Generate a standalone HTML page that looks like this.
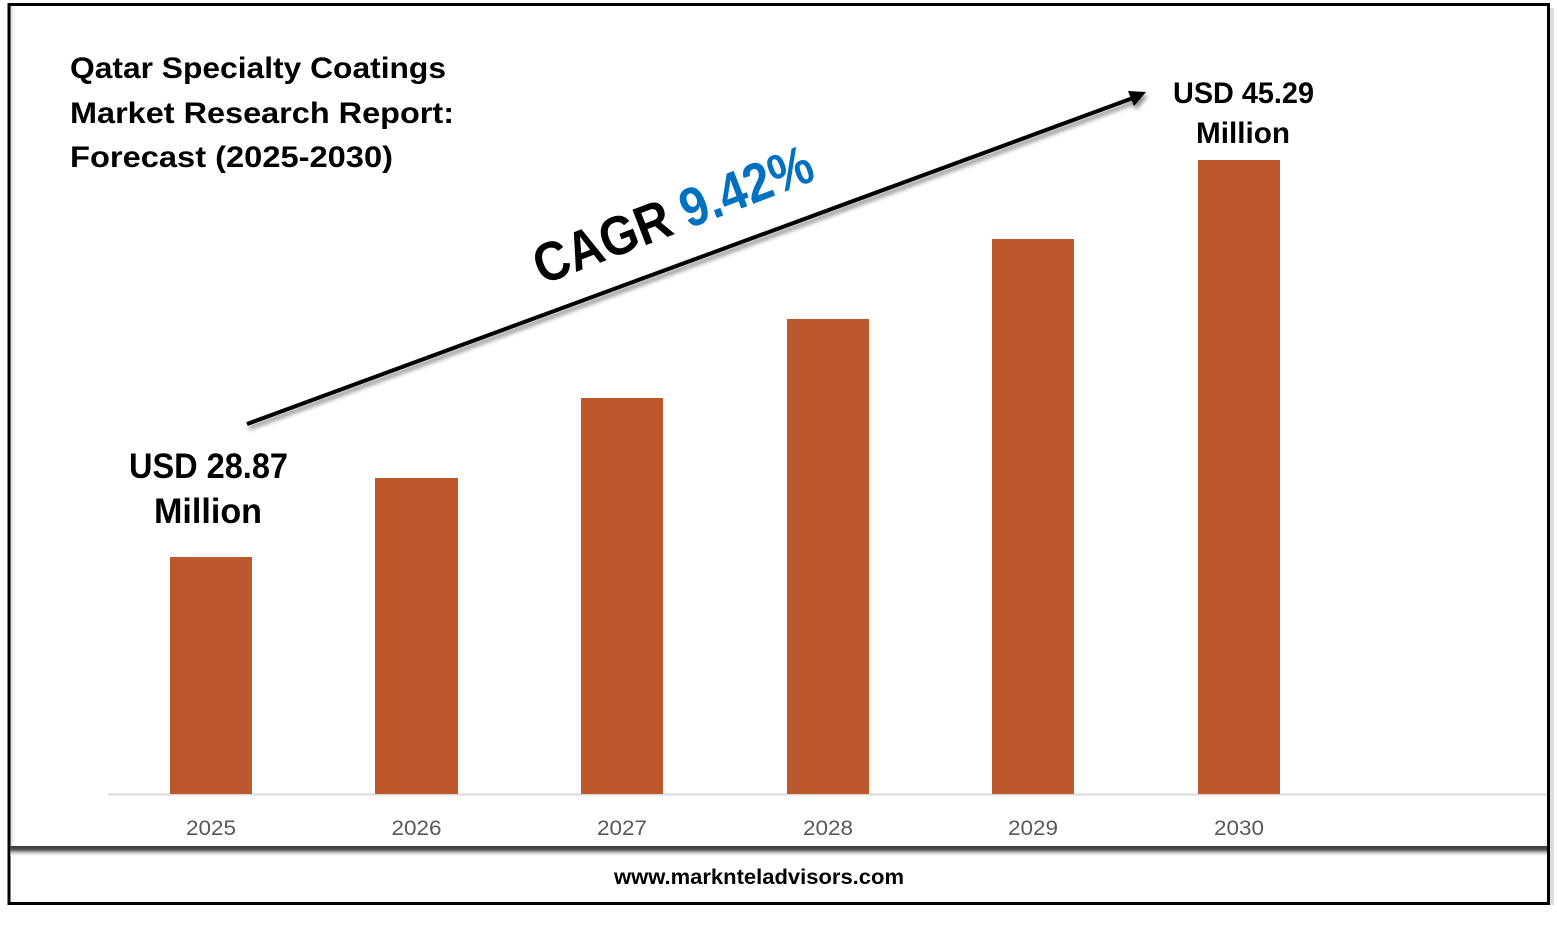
<!DOCTYPE html>
<html>
<head>
<meta charset="utf-8">
<style>
  html,body{margin:0;padding:0;background:#fff;}
  svg{display:block;}
  text{font-family:"Liberation Sans", sans-serif;}
</style>
</head>
<body>
<svg width="1557" height="927" viewBox="0 0 1557 927" xmlns="http://www.w3.org/2000/svg">
  <defs>
    <filter id="sh" x="-10%" y="-50%" width="120%" height="200%">
      <feGaussianBlur in="SourceAlpha" stdDeviation="2"/>
      <feOffset dx="2" dy="4" result="b"/>
      <feComponentTransfer><feFuncA type="linear" slope="0.45"/></feComponentTransfer>
      <feMerge><feMergeNode/><feMergeNode in="SourceGraphic"/></feMerge>
    </filter>
    <linearGradient id="div" x1="0" y1="0" x2="0" y2="1">
      <stop offset="0" stop-color="#3a3a3a"/>
      <stop offset="0.35" stop-color="#555"/>
      <stop offset="1" stop-color="#fff" stop-opacity="0"/>
    </linearGradient>
    <linearGradient id="lsh" x1="0" y1="0" x2="1" y2="0">
      <stop offset="0" stop-color="#999"/>
      <stop offset="1" stop-color="#fff" stop-opacity="0"/>
    </linearGradient>
  </defs>
  <rect width="1557" height="927" fill="#fff"/>

  <!-- outer shadow right -->
  <rect x="1550" y="8" width="4" height="897" fill="#ddd"/>
  <!-- left inner shadow -->
  <rect x="10" y="6" width="6" height="840" fill="url(#lsh)" opacity="0.5"/>

  <!-- border -->
  <rect x="9" y="4.5" width="1539.5" height="899" fill="none" stroke="#000" stroke-width="3"/>

  <!-- divider -->
  <rect x="10" y="846" width="1537" height="11" fill="url(#div)"/>

  <!-- axis -->
  <line x1="108" y1="794.5" x2="1547" y2="794.5" stroke="#d9d9d9" stroke-width="2"/>

  <!-- bars -->
  <g fill="#BD582C">
    <rect x="170" y="557" width="82" height="237"/>
    <rect x="375" y="478" width="83" height="316"/>
    <rect x="581" y="398" width="82" height="396"/>
    <rect x="787" y="319" width="82" height="475"/>
    <rect x="992" y="239" width="82" height="555"/>
    <rect x="1198" y="160" width="82" height="634"/>
  </g>

  <!-- year labels -->
  <g fill="#595959" font-size="21" text-anchor="middle">
    <text x="211" y="835" textLength="50" lengthAdjust="spacingAndGlyphs">2025</text>
    <text x="416.5" y="835" textLength="50" lengthAdjust="spacingAndGlyphs">2026</text>
    <text x="622" y="835" textLength="50" lengthAdjust="spacingAndGlyphs">2027</text>
    <text x="828" y="835" textLength="50" lengthAdjust="spacingAndGlyphs">2028</text>
    <text x="1033" y="835" textLength="50" lengthAdjust="spacingAndGlyphs">2029</text>
    <text x="1239" y="835" textLength="50" lengthAdjust="spacingAndGlyphs">2030</text>
  </g>

  <!-- title -->
  <g fill="#000" font-size="30" font-weight="bold">
    <text x="70" y="78" textLength="376" lengthAdjust="spacingAndGlyphs">Qatar Specialty Coatings</text>
    <text x="70" y="123" textLength="384" lengthAdjust="spacingAndGlyphs">Market Research Report:</text>
    <text x="70" y="167" textLength="323" lengthAdjust="spacingAndGlyphs">Forecast (2025-2030)</text>
  </g>

  <!-- arrow -->
  <g filter="url(#sh)">
    <line x1="247" y1="424" x2="1133" y2="98" stroke="#000" stroke-width="4"/>
    <polygon points="1146,92 1128,91 1134,106" fill="#000"/>
  </g>

  <!-- CAGR -->
  <g transform="translate(542,285) rotate(-21)">
    <text x="0" y="0" font-size="55" font-weight="bold" textLength="295" lengthAdjust="spacingAndGlyphs"><tspan fill="#000">CAGR </tspan><tspan fill="#0070C0">9.42%</tspan></text>
  </g>

  <!-- value labels -->
  <g fill="#000" font-weight="bold" text-anchor="middle">
    <text x="208.5" y="478" font-size="35" textLength="159" lengthAdjust="spacingAndGlyphs">USD 28.87</text>
    <text x="208" y="523" font-size="35" textLength="108" lengthAdjust="spacingAndGlyphs">Million</text>
    <text x="1243.5" y="103" font-size="30" textLength="141" lengthAdjust="spacingAndGlyphs">USD 45.29</text>
    <text x="1243" y="143" font-size="30" textLength="94" lengthAdjust="spacingAndGlyphs">Million</text>
  </g>

  <!-- website -->
  <text x="759" y="884" font-size="21" font-weight="bold" fill="#000" text-anchor="middle" textLength="290" lengthAdjust="spacingAndGlyphs">www.marknteladvisors.com</text>
</svg>
</body>
</html>
